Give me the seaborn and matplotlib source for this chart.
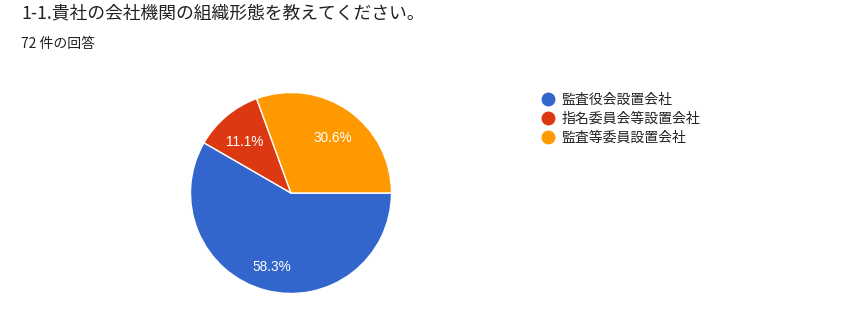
import matplotlib
matplotlib.use('Agg')
import matplotlib.pyplot as plt
from matplotlib.lines import Line2D
import seaborn as sns

# データ
categories = ['監査役会設置会社', '指名委員会等設置会社', '監査等委員設置会社']
counts = [42, 8, 22]
colors = ['#3366cc', '#dc3912', '#ff9900']
title = '1-1.貴社の会社機関の組織形態を教えてください。'
subtitle = '72 件の回答'

sns.set_theme(style='white')
plt.rcParams['font.family'] = ['Noto Sans CJK JP', 'DejaVu Sans']

W, H = 848, 313
fig = plt.figure(figsize=(W / 100, H / 100), dpi=100)
fig.patch.set_facecolor('white')

# 円グラフ (中心 291,193 / 半径 100.5 px)
cx, cy, r = 291, 193, 100.5
ax = fig.add_axes([(cx - r) / W, (H - cy - r) / H, 2 * r / W, 2 * r / H])
wedges, texts, autotexts = ax.pie(
    counts, colors=colors, startangle=0, counterclock=False,
    autopct='%1.1f%%', pctdistance=0.72,
    wedgeprops={'edgecolor': 'white', 'linewidth': 1},
    textprops={'color': 'white', 'fontsize': 9.8, 'family': ['Liberation Sans', 'DejaVu Sans']})
# ラベルを少し下へ
for t in autotexts:
    x, y = t.get_position()
    t.set_position((x, y - 0.04))
ax.set_xlim(-1, 1)
ax.set_ylim(-1, 1)
ax.set_aspect('equal')
ax.axis('off')

# タイトル
fig.text(21 / W, 1 - 13 / H, title, fontsize=12.8, color='#202124', va='center', ha='left')
fig.text(21 / W, 1 - 44 / H, subtitle, fontsize=10, color='#202124', va='center', ha='left')

# 凡例
handles = [Line2D([], [], marker='o', linestyle='none', markersize=9,
                  markerfacecolor=c, markeredgecolor=c) for c in colors]
leg = fig.legend(handles, categories, loc='upper left',
                 bbox_to_anchor=(541 / W, 1 - 92.5 / H), frameon=False,
                 fontsize=10, handlelength=1.0, handletextpad=0.45,
                 labelspacing=0.38, borderaxespad=0, borderpad=0)
for t in leg.get_texts():
    t.set_color('#222222')

fig.savefig('out.png', dpi=100, facecolor='white')
